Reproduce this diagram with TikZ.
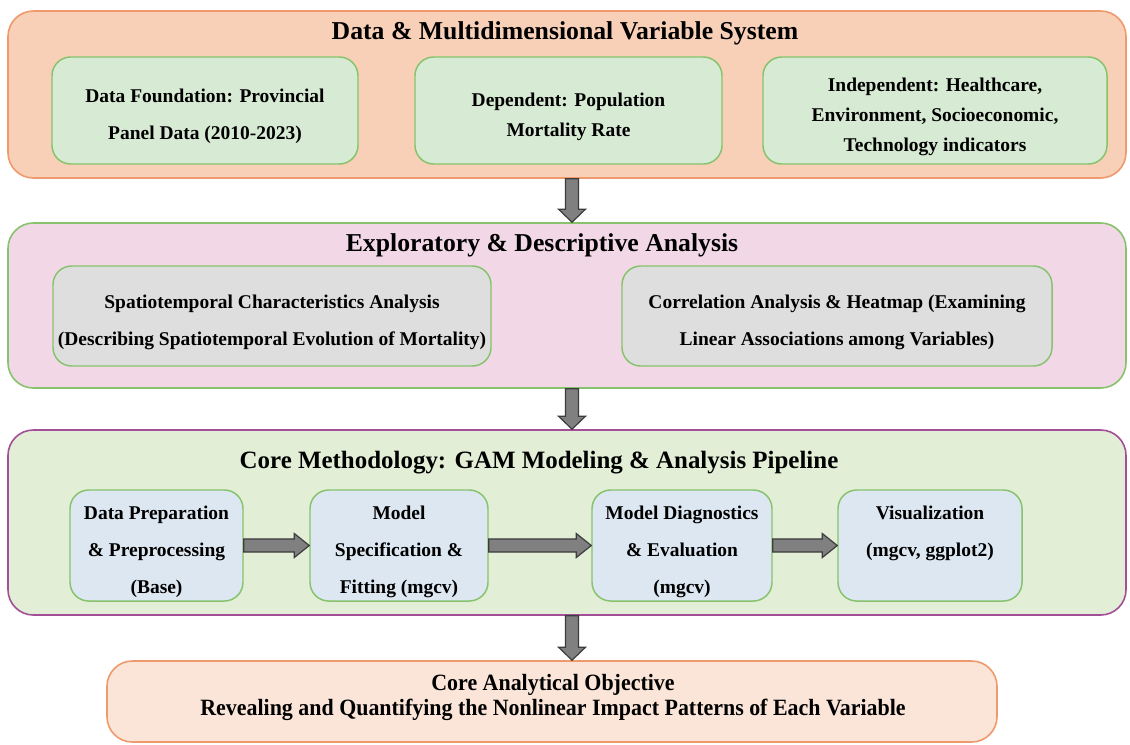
\documentclass[tikz,border=0pt]{standalone}
\usepackage{fontspec}
\setmainfont{Liberation Serif}
\newfontfamily\condfont{Liberation Serif}[FakeStretch=0.94]
\usetikzlibrary{calc}
\definecolor{peachfill}{HTML}{F8CFB7}
\definecolor{peachline}{HTML}{EE9A6C}
\definecolor{greenfill}{HTML}{D7EAD3}
\definecolor{grnline}{HTML}{86C36C}
\definecolor{pinkfill}{HTML}{F2D8E6}
\definecolor{greyfill}{HTML}{DEDEDE}
\definecolor{limefill}{HTML}{E3EED7}
\definecolor{purpline}{HTML}{A24F98}
\definecolor{bluefill}{HTML}{DDE7F1}
\definecolor{lightpeach}{HTML}{FBE5D9}
\definecolor{arrfill}{HTML}{808080}
\definecolor{arrline}{HTML}{3C3C3C}
\newcommand\boxtextA{\fontsize{14.6}{27.75}\selectfont\bfseries}
\newcommand\boxtextB{\fontsize{14.6}{22.5}\selectfont\bfseries}
\newcommand\titletext{\fontsize{19.3}{23}\selectfont\bfseries}
\newcommand\titletextC{\fontsize{18.7}{23}\selectfont\bfseries}
\newcommand\objtext{\condfont\fontsize{17.5}{18.75}\selectfont\bfseries}
% name, x1, y1, x2, y2, box style, text style, text
\newcommand\mkbox[8]{%
  \node[#6, minimum width={(#4-#2)*0.75pt}, minimum height={(#5-#3)*0.75pt}] (#1) at ({(#2+#4)/2},{(#3+#5)/2}) {};
  \node[align=center, inner sep=0pt, #7] (#1-text) at ($(#1.center)+(0,6)$) {#8};}
\newcommand\fatarrow[5]{%
  \path (#1) coordinate (fas) (#2) coordinate (fat);
  \coordinate (fah) at ($(fat)!#5!(fas)$);
  \draw[fatarr] ($(fas)!#3!90:(fat)$) -- ($(fah)!#3!90:(fat)$) -- ($(fah)!#4!90:(fat)$) -- (fat) -- ($(fah)!#4!-90:(fat)$) -- ($(fah)!#3!-90:(fat)$) -- ($(fas)!#3!-90:(fat)$) -- cycle;}
\begin{document}
\begin{tikzpicture}[x=0.75pt,y=-0.75pt,
  outerbox/.style={draw, line width=1.2pt, rounded corners=19pt, inner sep=0pt},
  innerbox/.style={draw=grnline, line width=1.1pt, rounded corners=14pt, inner sep=0pt},
  fatarr/.style={fill=arrfill, draw=arrline, line width=0.9pt, line join=miter},
  titlestyle/.style={font=\titletext, inner sep=0pt}]
\useasboundingbox (0,0) rectangle (1130,744);
\fill[white] (0,0) rectangle (1130,744);
\coordinate (ax) at (572,0);
% Section 1
\mkbox{sec1}{8}{11}{1126}{178}{outerbox, draw=peachline, fill=peachfill}{}{}
\node[titlestyle] (t1) at (565,33) {Data \& Multidimensional Variable System};
\mkbox{dfound}{52}{57}{358}{164}{innerbox, fill=greenfill}{font=\boxtextA}{Data Foundation: Provincial\\Panel Data (2010-2023)}
\mkbox{dep}{415}{57}{722}{164}{innerbox, fill=greenfill}{font=\boxtextB}{Dependent: Population\\Mortality Rate}
\mkbox{indep}{763}{57}{1107}{164}{innerbox, fill=greenfill}{font=\boxtextB}{Independent: Healthcare,\\Environment, Socioeconomic,\\Technology indicators}
% Section 2
\mkbox{sec2}{8}{223}{1126}{388}{outerbox, draw=grnline, fill=pinkfill}{}{}
\node[titlestyle] (t2) at (542,245) {Exploratory \& Descriptive Analysis};
\mkbox{spatio}{53}{266}{491}{366}{innerbox, fill=greyfill}{font=\boxtextA}{Spatiotemporal Characteristics Analysis\\(Describing Spatiotemporal Evolution of Mortality)}
\mkbox{corr}{622}{266}{1052}{366}{innerbox, fill=greyfill}{font=\boxtextA}{Correlation Analysis \& Heatmap (Examining\\Linear Associations among Variables)}
% Section 3
\mkbox{sec3}{8}{430}{1126}{615}{outerbox, draw=purpline, fill=limefill}{}{}
\node[titlestyle, font=\titletextC] (t3) at (539,463) {Core Methodology: GAM Modeling \& Analysis Pipeline};
\mkbox{prep}{70}{490}{243}{601}{innerbox, fill=bluefill}{font=\boxtextA}{Data Preparation\\\& Preprocessing\\(Base)}
\mkbox{spec}{310}{490}{488}{601}{innerbox, fill=bluefill}{font=\boxtextA}{Model\\Specification \&\\Fitting (mgcv)}
\mkbox{diag}{592}{490}{772}{601}{innerbox, fill=bluefill}{font=\boxtextA}{Model Diagnostics\\\& Evaluation\\(mgcv)}
\mkbox{vis}{838}{490}{1022}{601}{innerbox, fill=bluefill}{font=\boxtextA}{Visualization\\(mgcv, ggplot2)\\\vphantom{(}}
% Section 4
\mkbox{obj}{107}{661}{997}{742}{outerbox, draw=peachline, fill=lightpeach}{}{}
\node[font=\objtext, align=center, inner sep=0pt] (t4) at (553,697) {Core Analytical Objective\\Revealing and Quantifying the Nonlinear Impact Patterns of Each Variable};
% Arrows
\fatarrow{sec1.south -| ax}{sec2.north -| ax}{4.9pt}{10.1pt}{9.75pt}
\fatarrow{sec2.south -| ax}{sec3.north -| ax}{4.9pt}{10.1pt}{9.75pt}
\fatarrow{sec3.south -| ax}{obj.north -| ax}{4.9pt}{10.1pt}{9.75pt}
\fatarrow{prep.east}{spec.west}{4.9pt}{9pt}{11.25pt}
\fatarrow{spec.east}{diag.west}{4.9pt}{9pt}{11.25pt}
\fatarrow{diag.east}{vis.west}{4.9pt}{9pt}{11.25pt}
\end{tikzpicture}
\end{document}
